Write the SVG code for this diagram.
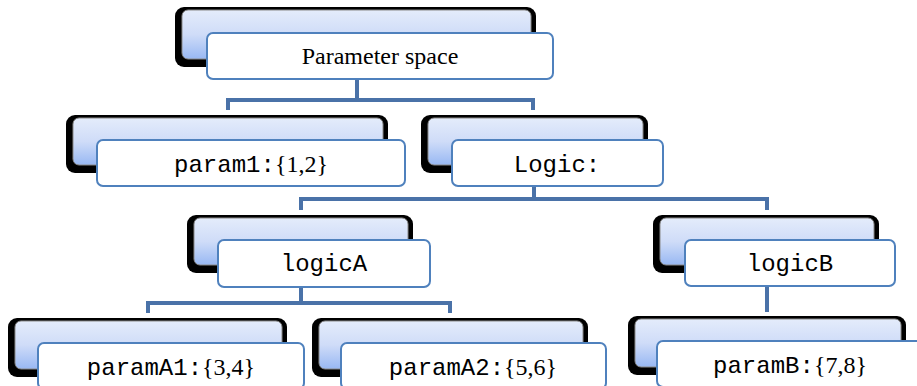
<svg xmlns="http://www.w3.org/2000/svg" width="917" height="386" viewBox="0 0 917 386">
<defs>
<linearGradient id="bg" x1="0" y1="0" x2="0" y2="1">
<stop offset="0" stop-color="#e4ecfb"/>
<stop offset="0.5" stop-color="#cfdcf8"/>
<stop offset="1" stop-color="#98b8f3"/>
</linearGradient>
<style>
.sh{fill:#000}
.bk{fill:url(#bg);stroke:#8a8a8a;stroke-width:1}
.fr{fill:#fff;stroke:#4f81bd;stroke-width:2}
.c{fill:none;stroke:#4a72a8;stroke-width:4}
.m{font-family:"Liberation Mono","Courier New",monospace;font-size:24px;fill:#000}
.t{font-family:"Liberation Serif","Times New Roman",serif;font-size:24px;fill:#000}
</style>
</defs>
<rect width="917" height="386" fill="#fff"/>
<g id="connectors">
<path class="c" d="M357 79V100M228 110V100H533V110"/>
<path class="c" d="M534 186V199M301 210V199H767V210"/>
<path class="c" d="M301 287V303M148 313V303H450V313"/>
<path class="c" d="M767 286V312"/>
</g>
<g id="n-root">
<rect class="sh" x="175" y="7" width="361" height="60" rx="9"/>
<rect class="bk" x="182" y="10" width="349" height="49" rx="6"/>
<rect class="fr" x="207" y="33" width="346" height="46" rx="6"/>
<text class="t" x="380" y="64" text-anchor="middle">Parameter space</text>
</g>
<g id="n-param1">
<rect class="sh" x="66" y="115" width="322" height="58" rx="9"/>
<rect class="bk" x="73" y="118" width="310" height="47" rx="6"/>
<rect class="fr" x="97" y="140" width="308" height="46" rx="6"/>
<text x="251" y="172" text-anchor="middle"><tspan class="m" font-size="21">param1:</tspan><tspan class="t" font-size="25">{1,2}</tspan></text>
</g>
<g id="n-logic">
<rect class="sh" x="421" y="115" width="227" height="58" rx="9"/>
<rect class="bk" x="428" y="118" width="215" height="47" rx="6"/>
<rect class="fr" x="452" y="140" width="211" height="46" rx="6"/>
<text x="557" y="172" text-anchor="middle"><tspan class="m">Logic:</tspan></text>
</g>
<g id="n-logicA">
<rect class="sh" x="187" y="215" width="226" height="58" rx="9"/>
<rect class="bk" x="194" y="218" width="214" height="47" rx="6"/>
<rect class="fr" x="218" y="240" width="212" height="47" rx="6"/>
<text class="m" x="324" y="271" text-anchor="middle">logicA</text>
</g>
<g id="n-logicB">
<rect class="sh" x="653" y="215" width="226" height="58" rx="9"/>
<rect class="bk" x="660" y="218" width="214" height="47" rx="6"/>
<rect class="fr" x="685" y="240" width="210" height="46" rx="6"/>
<text class="m" x="790" y="271" text-anchor="middle">logicB</text>
</g>
<g id="n-paramA1">
<rect class="sh" x="8" y="318" width="279" height="59" rx="9"/>
<rect class="bk" x="15" y="321" width="267" height="48" rx="6"/>
<rect class="fr" x="38" y="343" width="266" height="46" rx="6"/>
<text x="171" y="375" text-anchor="middle"><tspan class="m">paramA1:</tspan><tspan class="t">{3,4}</tspan></text>
</g>
<g id="n-paramA2">
<rect class="sh" x="312" y="318" width="276" height="59" rx="9"/>
<rect class="bk" x="319" y="321" width="264" height="48" rx="6"/>
<rect class="fr" x="341" y="343" width="265" height="46" rx="6"/>
<text x="473" y="375" text-anchor="middle"><tspan class="m">paramA2:</tspan><tspan class="t">{5,6}</tspan></text>
</g>
<g id="n-paramB">
<rect class="sh" x="628" y="316" width="278" height="59" rx="9"/>
<rect class="bk" x="635" y="319" width="266" height="48" rx="6"/>
<rect class="fr" x="657" y="341" width="266" height="46" rx="6"/>
<text x="790" y="373" text-anchor="middle"><tspan class="m">paramB:</tspan><tspan class="t">{7,8}</tspan></text>
</g>
</svg>
